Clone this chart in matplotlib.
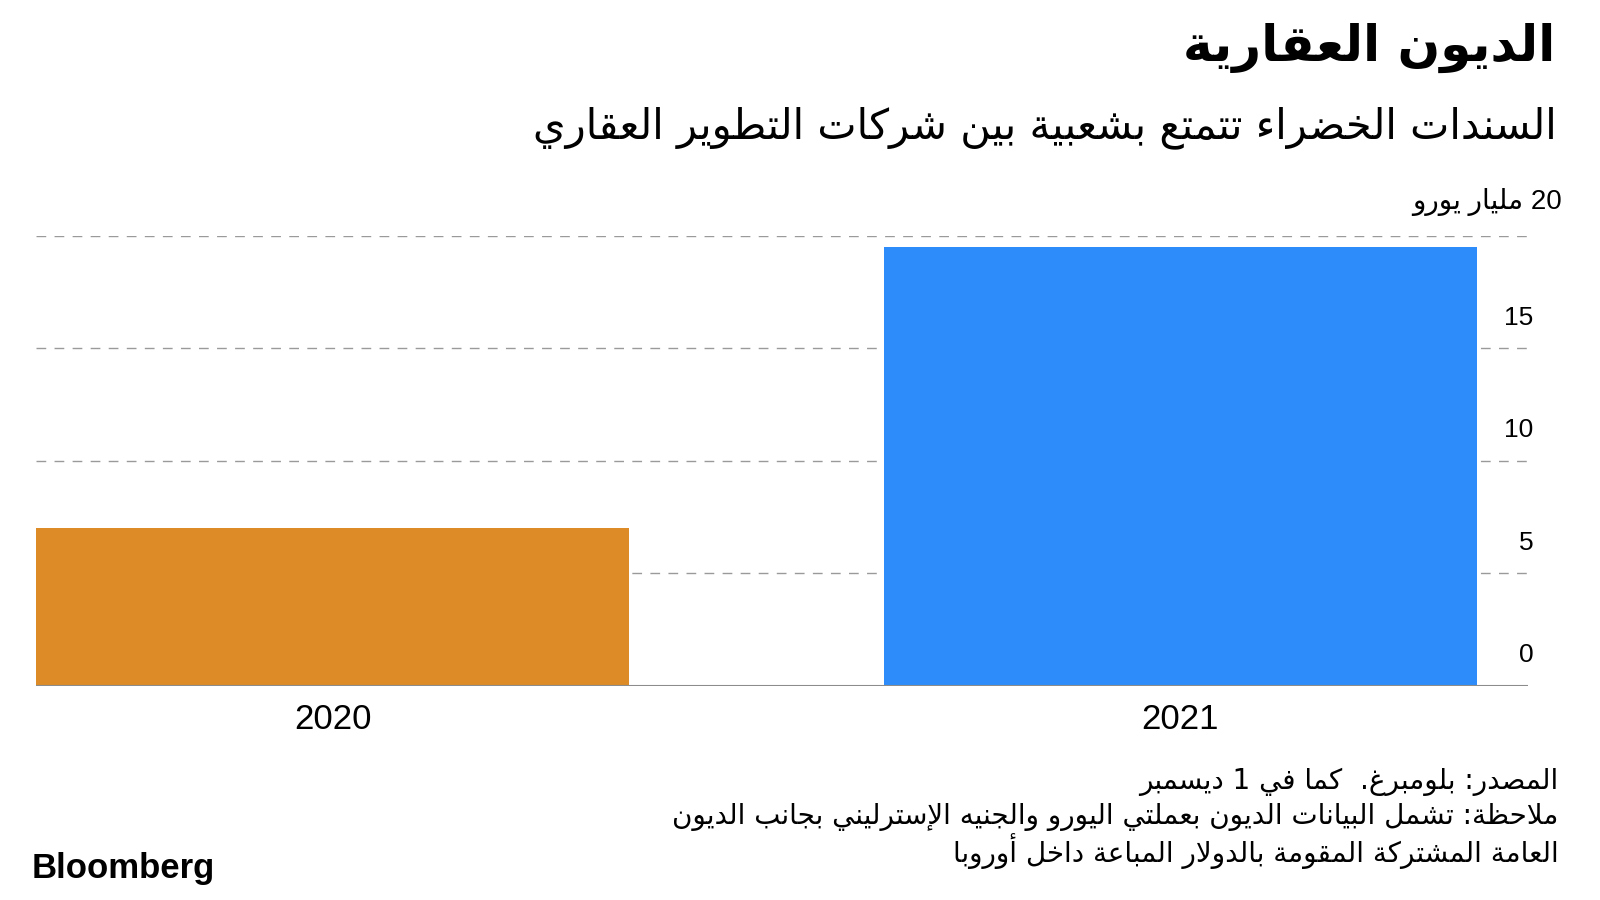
import re
import matplotlib
matplotlib.use("Agg")
import matplotlib.pyplot as plt

# data (billion euro)
years = ["2020", "2021"]
values = [7.0, 19.5]
bar_colors = ["#DC8B26", "#2D8CFA"]
y_ticks = [0, 5, 10, 15, 20]

title = "الديون العقارية"
subtitle = "السندات الخضراء تتمتع بشعبية بين شركات التطوير العقاري"
unit_label = "20 مليار يورو"
notes = [
    "المصدر: بلومبرغ.  كما في 1 ديسمبر",
    "ملاحظة: تشمل البيانات الديون بعملتي اليورو والجنيه الإسترليني بجانب الديون",
    "العامة المشتركة المقومة بالدولار المباعة داخل أوروبا",
]

# matplotlib has no arabic shaping, so pick the presentation forms by hand
# letter -> (first presentation form, joining: 0 none, 1 right only, 2 both sides)
FORMS = {
    "ء": (0xFE80, 0), "آ": (0xFE81, 1), "أ": (0xFE83, 1), "ؤ": (0xFE85, 1),
    "إ": (0xFE87, 1), "ئ": (0xFE89, 2), "ا": (0xFE8D, 1), "ب": (0xFE8F, 2),
    "ة": (0xFE93, 1), "ت": (0xFE95, 2), "ث": (0xFE99, 2), "ج": (0xFE9D, 2),
    "ح": (0xFEA1, 2), "خ": (0xFEA5, 2), "د": (0xFEA9, 1), "ذ": (0xFEAB, 1),
    "ر": (0xFEAD, 1), "ز": (0xFEAF, 1), "س": (0xFEB1, 2), "ش": (0xFEB5, 2),
    "ص": (0xFEB9, 2), "ض": (0xFEBD, 2), "ط": (0xFEC1, 2), "ظ": (0xFEC5, 2),
    "ع": (0xFEC9, 2), "غ": (0xFECD, 2), "ف": (0xFED1, 2), "ق": (0xFED5, 2),
    "ك": (0xFED9, 2), "ل": (0xFEDD, 2), "م": (0xFEE1, 2), "ن": (0xFEE5, 2),
    "ه": (0xFEE9, 2), "و": (0xFEED, 1), "ى": (0xFEEF, 1), "ي": (0xFEF1, 2),
}
LAM_ALEF = {"آ": 0xFEF5, "أ": 0xFEF7, "إ": 0xFEF9, "ا": 0xFEFB}


def ar(s):
    toks = []
    i = 0
    while i < len(s):
        c = s[i]
        if c == "ل" and i + 1 < len(s) and s[i + 1] in LAM_ALEF:
            toks.append((c, LAM_ALEF[s[i + 1]], 1))
            i += 2
        elif c in FORMS:
            toks.append((c,) + FORMS[c])
            i += 1
        else:
            toks.append((c, None, 0))
            i += 1
    out = []
    for k, (c, base, jt) in enumerate(toks):
        if base is None:
            out.append(c)
            continue
        prev = k > 0 and toks[k - 1][1] is not None and toks[k - 1][2] == 2
        nxt = jt == 2 and k + 1 < len(toks) and toks[k + 1][1] is not None and toks[k + 1][2] > 0
        if prev and nxt:
            off = 3
        elif prev:
            off = 1 if jt > 0 else 0
        elif nxt:
            off = 2
        else:
            off = 0
        out.append(chr(base + off))
    vis = "".join(out)[::-1]
    # numbers keep left-to-right order
    return re.sub(r"[0-9]+", lambda m: m.group(0)[::-1], vis)


AR_FONT = ["DejaVu Sans"]
NUM_FONT = ["Liberation Sans", "DejaVu Sans"]

fig = plt.figure(figsize=(16, 9), dpi=100)
ax = fig.add_axes([0.0225, 0.2378, 0.9325, 0.5])

x = range(len(years))
ax.bar(x, values, width=0.7, color=bar_colors, zorder=2)
ax.set_xlim(-0.35, 1.41)
ax.set_ylim(0, 20)

# dashed grid lines
for v in y_ticks[1:]:
    ax.axhline(v, color="#9a9a9a", lw=1, ls=(0, (7, 6)), zorder=1)
ax.axhline(0, color="#8c8c8c", lw=1.5, zorder=3)

for s in ax.spines.values():
    s.set_visible(False)
ax.set_yticks([])
ax.set_xticks(list(x))
ax.set_xticklabels(years, fontsize=25, family=NUM_FONT)
ax.tick_params(axis="x", length=0, pad=12)

# y labels sit above their grid line on the right
for v in y_ticks[:-1]:
    ax.annotate(str(v), xy=(1.0, v), xycoords=("axes fraction", "data"),
                xytext=(4, 22), textcoords="offset points",
                ha="right", va="center", fontsize=19, family=NUM_FONT)
fig.text(0.976, 0.7756, ar(unit_label), ha="right", va="center",
         fontsize=20, family=NUM_FONT)

fig.text(0.972, 0.947, ar(title), ha="right", va="center",
         fontsize=36, fontweight="bold", family=AR_FONT)
fig.text(0.973, 0.858, ar(subtitle), ha="right", va="center",
         fontsize=30, family=AR_FONT)

for i, line in enumerate(notes):
    fig.text(0.974, 0.131 - i * 0.0385, ar(line), ha="right", va="center",
             fontsize=20, family=AR_FONT)

fig.text(0.02, 0.035, "Bloomberg", ha="left", va="center",
         fontsize=25, fontweight="bold", family=NUM_FONT)

fig.savefig("out.png", dpi=100)
